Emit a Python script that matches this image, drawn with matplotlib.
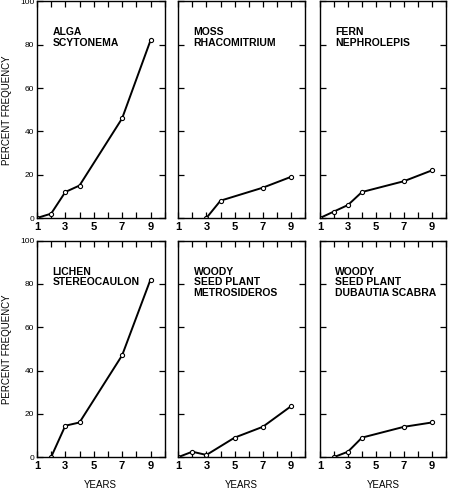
import matplotlib.pyplot as plt
from matplotlib.ticker import MultipleLocator

plt.rcParams['font.family'] = ['Liberation Sans', 'DejaVu Sans']

# values (year, percent frequency)
alga_x = [1, 2, 3, 4, 7, 9]
alga_y = [0, 2, 12, 15, 46, 82]

moss_x = [3, 4, 7, 9]
moss_y = [0, 8, 14, 19]

fern_x = [1, 2, 3, 4, 7, 9]
fern_y = [0, 3, 6, 12, 17, 22]

lichen_x = [2, 3, 4, 7, 9]
lichen_y = [0, 14.5, 16, 47, 82]

metro_x = [1, 2, 3, 5, 7, 9]
metro_y = [0, 2.5, 1, 9, 14, 23.5]

dubautia_x = [2, 3, 4, 7, 9]
dubautia_y = [0, 2.5, 9, 14, 16]

panels = [
    ("ALGA\nSCYTONEMA", alga_x, alga_y),
    ("MOSS\nRHACOMITRIUM", moss_x, moss_y),
    ("FERN\nNEPHROLEPIS", fern_x, fern_y),
    ("LICHEN\nSTEREOCAULON", lichen_x, lichen_y),
    ("WOODY\nSEED PLANT\nMETROSIDEROS", metro_x, metro_y),
    ("WOODY\nSEED PLANT\nDUBAUTIA SCABRA", dubautia_x, dubautia_y),
]

x_labels = [1, 3, 5, 7, 9]
y_labels = [0, 20, 40, 60, 80, 100]

fig = plt.figure(figsize=(4.5, 4.91), dpi=100)

lefts = [0.082, 0.396, 0.711]
widths = [0.284, 0.282, 0.28]
bottoms = [0.556, 0.069]
height = 0.441

for i, (title, xs, ys) in enumerate(panels):
    row, col = divmod(i, 3)
    ax = fig.add_axes([lefts[col], bottoms[row], widths[col], height])
    ax.plot(xs, ys, color='black', lw=1.4, marker='o', ms=3,
            mfc='white', mec='black', mew=0.8)
    ax.set_xlim(1, 10)
    ax.set_ylim(0, 100)
    ax.set_xticks(x_labels)
    ax.set_xticklabels([str(v) for v in x_labels])
    ax.xaxis.set_minor_locator(MultipleLocator(1))
    ax.set_yticks(y_labels)
    ax.tick_params(axis='both', which='both', direction='in',
                   top=True, right=True, length=4, width=0.9)
    ax.tick_params(axis='x', labelsize=8, pad=3)
    ax.tick_params(axis='y', labelsize=6, pad=2)
    for lab in ax.get_xticklabels():
        lab.set_fontweight('bold')
    if col == 0:
        ax.set_yticklabels([str(v) for v in y_labels])
        ax.set_ylabel("PERCENT FREQUENCY", fontsize=7, labelpad=6)
    else:
        ax.set_yticklabels([])
    if row == 1:
        ax.set_xlabel("YEARS", fontsize=7, labelpad=6)
    for sp in ax.spines.values():
        sp.set_linewidth(1.0)
    ax.text(2.1, 88, title, fontsize=7.5, fontweight='bold',
            va='top', ha='left', linespacing=1.1)

fig.savefig("out.png", dpi=100)
